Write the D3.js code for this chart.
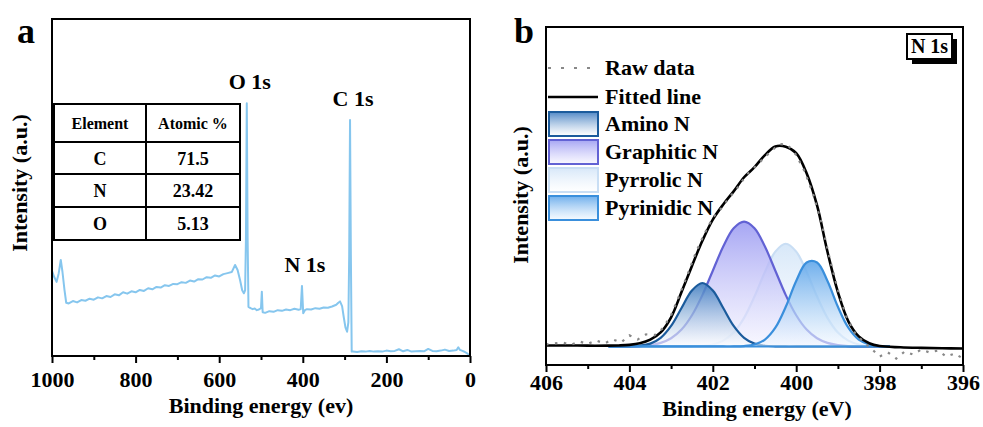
<!DOCTYPE html>
<html>
<head>
<meta charset="utf-8">
<script src="https://cdn.jsdelivr.net/npm/d3@7"></script>
<style>
  body { margin: 0; background: #fff; }
  svg { display: block; }
</style>
</head>
<body>
<div id="chart"></div>
<script>
'use strict';

// ---- panel a : survey spectrum ----
const surveyE = [1000, 995, 989, 984, 979, 975, 970, 966, 960, 950, 940, 930, 920, 910, 900, 890, 880, 870, 860, 850,
  840, 830, 820, 810, 800, 790, 780, 770, 760, 750, 740, 730, 720, 710, 700, 690, 680, 670, 660, 650,
  640, 630, 620, 610, 600, 590, 580, 570, 562, 556, 550, 545, 541, 538, 536, 534, 532, 530, 525, 520,
  515, 510, 505, 500, 498, 496, 490, 480, 470, 460, 450, 440, 430, 420, 410, 405, 402, 399, 395, 390,
  380, 370, 360, 350, 340, 330, 320, 315, 311, 306, 302, 298, 294, 291, 289, 287, 285, 283, 280, 270,
  260, 250, 240, 230, 220, 210, 200, 190, 180, 170, 160, 150, 140, 130, 120, 110, 100, 90, 80, 70,
  60, 50, 40, 32, 28, 24, 18, 12, 6, 0];
const surveyI = [25.3, 23.5, 22.0, 24.5, 28.5, 25.0, 19.5, 15.8, 15.6, 16.3, 15.9, 16.6, 16.4, 17.0, 16.7, 17.4, 17.1, 17.8, 17.5, 18.3,
  18.0, 18.9, 18.5, 19.2, 18.9, 19.6, 19.3, 20.1, 19.8, 20.5, 20.3, 21.0, 20.8, 21.4, 21.3, 21.9, 21.7, 22.4, 22.1, 22.8,
  22.7, 23.4, 23.2, 23.9, 23.6, 24.3, 24.6, 24.9, 27.0, 25.5, 22.5, 19.5, 18.6, 19.5, 35, 75, 35, 14.6, 14.2, 13.9,
  14.1, 13.6, 13.8, 14.2, 19.1, 13.0, 12.8, 13.3, 13.1, 13.6, 13.4, 13.8, 13.6, 14.0, 13.7, 13.9, 20.8, 12.7, 13.6, 13.9,
  13.8, 14.2, 14.0, 14.4, 14.3, 14.7, 15.2, 15.8, 16.2, 14.8, 11.5, 8.5, 7.2, 10, 30, 70, 30, 1.3, 1.3, 1.2,
  1.4, 1.3, 1.5, 1.3, 1.4, 1.3, 1.6, 1.4, 1.5, 2.0, 1.4, 1.8, 1.3, 1.4, 1.5, 1.4, 2.1, 1.5, 1.4, 1.6,
  1.9, 1.5, 1.6, 1.8, 2.6, 1.8, 1.5, 1.2, 0.7, 0];
const surveyTicks = [1000, 800, 600, 400, 200, 0];
const surveyMinor = [900, 700, 500, 300, 100];
const peakNames = ["O 1s", "C 1s", "N 1s"];
const peakE = [534, 287, 402];
const tableHeader = ["Element", "Atomic %"];
const tableElements = ["C", "N", "O"];
const tableValues = ["71.5", "23.42", "5.13"];

// ---- panel b : N 1s high resolution ----
const fitE = [406, 405.5, 405, 404.5, 404.25, 404, 403.75, 403.5, 403.25, 403, 402.75, 402.5, 402.25, 402, 401.75, 401.5, 401.25,
  401, 400.75, 400.5, 400.25, 400, 399.75, 399.5, 399.25, 399, 398.75, 398.5, 398.25, 398, 397.5, 397, 396.5, 396];
const fitted = [0.5, 0.5, 0.4, 0.4, 0.5, 0.8, 1.6, 3.4, 7.0, 14.5, 27, 40, 52.5, 63, 70.5, 77, 84,
  89, 95, 99.3, 99.2, 96, 86, 70, 47, 27, 12.5, 5, 1.6, 0.2, -0.4, -0.7, -0.9, -1.0];
const rawE = [406.0, 405.8, 405.6, 405.4, 405.2, 405.0, 404.8, 404.6, 404.4, 404.2, 404.0, 403.8, 403.6, 403.4, 403.2, 403.0, 402.8,
  402.6, 402.4, 402.2, 402.0, 401.8, 401.6, 401.4, 401.2, 401.0, 400.8, 400.6, 400.4, 400.2, 400.0, 399.8, 399.6, 399.4,
  399.2, 399.0, 398.8, 398.6, 398.4, 398.2, 398.0, 397.8, 397.6, 397.4, 397.2, 397.0, 396.8, 396.6, 396.4, 396.2, 396.0];
const rawI = [1.0, 1.5, 2.0, 0.8, 2.5, 1.2, 3.0, 1.5, 3.5, 2.0, 5.5, 3.5, 6.0, 5.5, 9.0, 15.5, 25.5,
  36, 47, 56, 64, 68.5, 74, 79, 85, 89, 93, 97, 100.5, 100, 95, 87, 76, 62,
  44, 28, 15, 7, 2.5, -1, -5, -3, -6, -2.5, -4, -1.5, -3, -2, -5, -3.5, -6];
const compE = [404.5, 404.25, 404, 403.75, 403.5, 403.25, 403, 402.75, 402.5, 402.25, 402, 401.75, 401.5, 401.25,
  401, 400.75, 400.5, 400.25, 400, 399.75, 399.5, 399.25, 399, 398.75, 398.5, 398.25, 398, 397.75];
const aminoN = [0, 0, 0.07, 0.35, 1.4, 4.3, 10.2, 19.1, 27.8, 31.5, 27.8, 19.1, 10.2, 4.3,
  1.4, 0.35, 0.07, 0, 0, 0, 0, 0, 0, 0, 0, 0, 0, 0];
const graphiticN = [0, 0, 0.07, 0.2, 0.7, 1.8, 4.1, 8.4, 15.5, 25.5, 37.6, 49.6, 58.7, 62,
  58.7, 49.6, 37.6, 25.5, 15.5, 8.4, 4.1, 1.8, 0.7, 0.2, 0.07, 0, 0, 0];
const pyrrolicN = [0, 0, 0, 0, 0, 0, 0, 0, 0.08, 0.3, 1.0, 2.9, 6.9, 14.2,
  24.8, 37.0, 47.1, 51, 47.1, 37.0, 24.8, 14.2, 6.9, 2.9, 1.0, 0.3, 0.08, 0];
const pyridinicN = [0, 0, 0, 0, 0, 0, 0, 0, 0, 0, 0, 0, 0, 0.2,
  1.0, 3.4, 9.3, 19.7, 32.5, 41.7, 41.7, 32.5, 19.7, 9.3, 3.4, 1.0, 0.2, 0.04];
const hrTicks = [406, 404, 402, 400, 398, 396];
const hrMinor = [405, 403, 401, 399, 397];
const legendNames = ["Raw data", "Fitted line", "Amino N", "Graphitic N", "Pyrrolic N", "Pyrinidic N"];

const serif = "'Liberation Serif', 'Times New Roman', Times, serif";

let svg = d3.select("#chart").append("svg")
    .attr("width", 983)
    .attr("height", 427)
    .attr("font-family", serif)
    .attr("font-weight", "bold");

let defs = svg.append("defs");

function bottomAxis(g, x, major, minor, labelY) {
    let ax = g.append("g")
        .call(d3.axisBottom(x).tickValues(major).tickSize(7).tickSizeOuter(0).tickFormat(d3.format("d")))
        .attr("font-family", serif)
        .attr("font-size", 22)
        .attr("font-weight", "bold");
    ax.select(".domain").remove();
    ax.selectAll("line").attr("stroke", "#000").attr("stroke-width", 2);
    ax.selectAll("text").attr("y", labelY).attr("dy", null).attr("fill", "#000");
    let mn = g.append("g")
        .call(d3.axisBottom(x).tickValues(minor).tickSize(4).tickSizeOuter(0).tickFormat(""));
    mn.select(".domain").remove();
    mn.selectAll("line").attr("stroke", "#000").attr("stroke-width", 2);
}

// ================= panel a =================
let xA = d3.scaleLinear().domain([1000, 0]).range([52, 470]),
    yA = d3.scaleLinear().domain([0, 100]).range([356, 19]);

let survey = surveyE.map((e, i) => ({e: e, v: surveyI[i]}));

svg.append("path")
    .datum(survey)
    .attr("fill", "none")
    .attr("stroke", "#86c6ee")
    .attr("stroke-width", 2)
    .attr("stroke-linejoin", "round")
    .attr("d", d3.line().x(d => xA(d.e)).y(d => yA(d.v)));

svg.append("rect")
    .attr("x", 52).attr("y", 19)
    .attr("width", 418).attr("height", 337)
    .attr("fill", "none")
    .attr("stroke", "#000")
    .attr("stroke-width", 2);

bottomAxis(svg.append("g").attr("transform", "translate(0,356)"), xA, surveyTicks, surveyMinor, 31);

// peak labels
svg.append("g")
    .selectAll("text")
    .data(peakNames)
    .enter()
    .append("text")
    .attr("x", (d, i) => xA(peakE[i]) + 3)
    .attr("y", (d, i) => yA(surveyI[surveyE.indexOf(peakE[i])]) - 14)
    .attr("text-anchor", "middle")
    .attr("font-size", 22)
    .text(d => d);

// element table
let tab = svg.append("g");
let rowY = [104, 142, 174, 207, 240],
    colX = [54, 146, 240];
tab.append("rect")
    .attr("x", colX[0]).attr("y", rowY[0])
    .attr("width", colX[2] - colX[0]).attr("height", rowY[4] - rowY[0])
    .attr("fill", "#fff").attr("stroke", "#000").attr("stroke-width", 2);
tab.selectAll(".hline")
    .data(rowY.slice(1, 4))
    .enter()
    .append("line")
    .attr("x1", colX[0]).attr("x2", colX[2])
    .attr("y1", d => d).attr("y2", d => d)
    .attr("stroke", "#000").attr("stroke-width", 2);
tab.append("line")
    .attr("x1", colX[1]).attr("x2", colX[1])
    .attr("y1", rowY[0]).attr("y2", rowY[4])
    .attr("stroke", "#000").attr("stroke-width", 2);
tab.selectAll(".head")
    .data(tableHeader)
    .enter()
    .append("text")
    .attr("x", (d, i) => (colX[i] + colX[i + 1]) / 2)
    .attr("y", (rowY[0] + rowY[1]) / 2 + 6)
    .attr("text-anchor", "middle")
    .attr("font-size", 16)
    .text(d => d);
let rows = tableElements.map((el, i) => [el, tableValues[i]]);
rows.forEach((r, i) => {
    r.forEach((cell, j) => {
        tab.append("text")
            .attr("x", (colX[j] + colX[j + 1]) / 2)
            .attr("y", (rowY[i + 1] + rowY[i + 2]) / 2 + 6.5)
            .attr("text-anchor", "middle")
            .attr("font-size", 18)
            .text(cell);
    });
});

// titles
svg.append("text")
    .attr("x", 261).attr("y", 413)
    .attr("text-anchor", "middle")
    .attr("font-size", 22)
    .text("Binding energy (ev)");
svg.append("text")
    .attr("transform", "translate(27,183) rotate(-90)")
    .attr("text-anchor", "middle")
    .attr("font-size", 22)
    .text("Intensity (a.u.)");
svg.append("text")
    .attr("x", 17).attr("y", 43)
    .attr("font-size", 36)
    .text("a");

// ================= panel b =================
let xB = d3.scaleLinear().domain([406, 396]).range([546, 963]),
    yB = d3.scaleLinear().domain([-9.2, 158.6]).range([365, 27]);

let compNames = legendNames.slice(2),
    comps = [aminoN, graphiticN, pyrrolicN, pyridinicN],
    compStroke = ["#1b5b9c", "#6262d4", "#c9def4", "#3a8fdc"],
    compTop = ["#3f7cc0", "#9c9cf2", "#d3e5f8", "#5fa6ea"],
    compBottom = ["#ffffff", "#f4f2ff", "#ffffff", "#f2f8ff"];

compNames.forEach((n, i) => {
    let gr = defs.append("linearGradient")
        .attr("id", "grad" + i)
        .attr("x1", 0).attr("y1", 0).attr("x2", 0).attr("y2", 1);
    gr.append("stop").attr("offset", "0%").attr("stop-color", compTop[i]).attr("stop-opacity", 0.9);
    gr.append("stop").attr("offset", "100%").attr("stop-color", compBottom[i]).attr("stop-opacity", 0.6);
});

let area = d3.area()
    .curve(d3.curveCatmullRom)
    .x(d => xB(d.e))
    .y0(yB(0))
    .y1(d => yB(d.v));
let compLine = d3.line()
    .curve(d3.curveCatmullRom)
    .x(d => xB(d.e))
    .y(d => yB(d.v));

// draw order: pyrrolic, graphitic, amino, pyridinic
[2, 1, 0, 3].forEach(i => {
    let pts = compE.map((e, k) => ({e: e, v: comps[i][k]}));
    svg.append("path")
        .datum(pts)
        .attr("fill", "url(#grad" + i + ")")
        .attr("d", area);
    svg.append("path")
        .datum(pts)
        .attr("fill", "none")
        .attr("stroke", compStroke[i])
        .attr("stroke-width", 2.2)
        .attr("d", compLine);
});

svg.append("line")
    .attr("x1", xB(404.5)).attr("x2", xB(397.75))
    .attr("y1", yB(0)).attr("y2", yB(0))
    .attr("stroke", "#3a8fdc").attr("stroke-width", 2);

svg.append("path")
    .datum(fitE.map((e, i) => ({e: e, v: fitted[i]})))
    .attr("fill", "none")
    .attr("stroke", "#000")
    .attr("stroke-width", 2.6)
    .attr("d", compLine);

svg.append("path")
    .datum(rawE.map((e, i) => ({e: e, v: rawI[i]})))
    .attr("fill", "none")
    .attr("stroke", "#888")
    .attr("stroke-width", 2.2)
    .attr("stroke-dasharray", "2.5,6.5")
    .attr("d", d3.line().x(d => xB(d.e)).y(d => yB(d.v)));

svg.append("rect")
    .attr("x", 546).attr("y", 27)
    .attr("width", 417).attr("height", 338)
    .attr("fill", "none")
    .attr("stroke", "#000")
    .attr("stroke-width", 2);

bottomAxis(svg.append("g").attr("transform", "translate(0,365)"), xB, hrTicks, hrMinor, 25);

// legend
let leg = svg.append("g");
let legY = [68, 97, 124, 152, 180, 208];
leg.append("line")
    .attr("x1", 548).attr("x2", 598).attr("y1", legY[0]).attr("y2", legY[0])
    .attr("stroke", "#888").attr("stroke-width", 2.2).attr("stroke-dasharray", "3,10");
leg.append("line")
    .attr("x1", 548).attr("x2", 598).attr("y1", legY[1]).attr("y2", legY[1])
    .attr("stroke", "#000").attr("stroke-width", 2.6);
compNames.forEach((n, i) => {
    leg.append("rect")
        .attr("x", 549).attr("y", legY[i + 2] - 12)
        .attr("width", 49).attr("height", 24)
        .attr("fill", "url(#grad" + i + ")")
        .attr("stroke", compStroke[i])
        .attr("stroke-width", 2);
});
leg.selectAll("text")
    .data(legendNames)
    .enter()
    .append("text")
    .attr("x", 605)
    .attr("y", (d, i) => legY[i] + 7)
    .attr("font-size", 22)
    .text(d => d);

// N 1s tag with shadow
svg.append("rect")
    .attr("x", 912).attr("y", 39).attr("width", 45).attr("height", 25)
    .attr("fill", "#000");
svg.append("rect")
    .attr("x", 907).attr("y", 34).attr("width", 45).attr("height", 25)
    .attr("fill", "#fff").attr("stroke", "#000").attr("stroke-width", 2);
svg.append("text")
    .attr("x", 929.5).attr("y", 53)
    .attr("text-anchor", "middle")
    .attr("font-size", 20)
    .text("N 1s");

svg.append("text")
    .attr("x", 757).attr("y", 416)
    .attr("text-anchor", "middle")
    .attr("font-size", 22)
    .text("Binding energy (eV)");
svg.append("text")
    .attr("transform", "translate(528,195) rotate(-90)")
    .attr("text-anchor", "middle")
    .attr("font-size", 22)
    .text("Intensity (a.u.)");
svg.append("text")
    .attr("x", 514).attr("y", 43)
    .attr("font-size", 36)
    .text("b");
</script>
</body>
</html>
